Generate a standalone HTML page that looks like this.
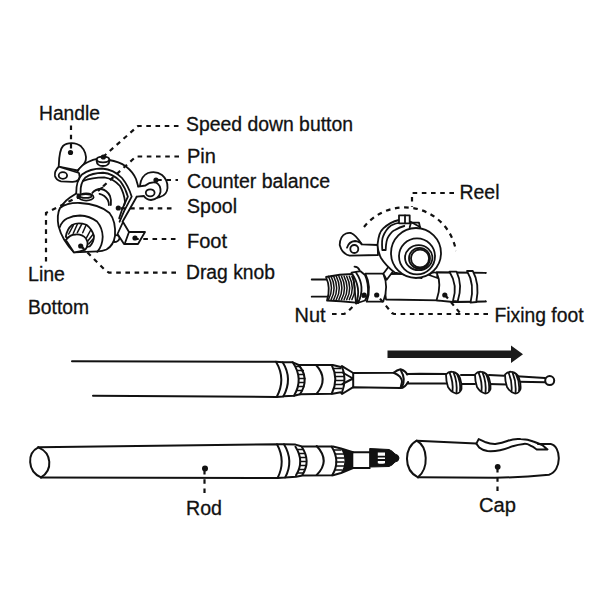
<!DOCTYPE html>
<html><head><meta charset="utf-8"><style>
html,body{margin:0;padding:0;background:#fff;}
svg{display:block;}
text{font-family:"Liberation Sans",sans-serif;font-size:20px;fill:#111;stroke:#111;stroke-width:0.3px;}
</style></head><body>
<svg width="600" height="600" viewBox="0 0 600 600">
<rect width="600" height="600" fill="#fff"/>
<!-- labels -->
<g>
<text x="39" y="119.7" textLength="61" lengthAdjust="spacingAndGlyphs">Handle</text>
<text x="186" y="130.5" textLength="167" lengthAdjust="spacingAndGlyphs">Speed down button</text>
<text x="187" y="162.5">Pin</text>
<text x="187" y="187.5" textLength="143" lengthAdjust="spacingAndGlyphs">Counter balance</text>
<text x="187" y="213" textLength="50" lengthAdjust="spacingAndGlyphs">Spool</text>
<text x="187" y="248">Foot</text>
<text x="186" y="279" textLength="89" lengthAdjust="spacingAndGlyphs">Drag knob</text>
<text x="28" y="281.3" textLength="37" lengthAdjust="spacingAndGlyphs">Line</text>
<text x="28" y="314.2" textLength="61" lengthAdjust="spacingAndGlyphs">Bottom</text>
<text x="459.5" y="199" textLength="40" lengthAdjust="spacingAndGlyphs">Reel</text>
<text x="494.5" y="321.7" textLength="89" lengthAdjust="spacingAndGlyphs">Fixing foot</text>
<text x="294.5" y="322" textLength="31" lengthAdjust="spacingAndGlyphs">Nut</text>
<text x="186" y="514.5" textLength="36" lengthAdjust="spacingAndGlyphs">Rod</text>
<text x="479" y="512.4" textLength="37" lengthAdjust="spacingAndGlyphs">Cap</text>
</g>

<!-- extended rod -->
<g fill="none" stroke="#111" stroke-width="2" stroke-linejoin="round" stroke-linecap="round">
<path d="M72,361.2 L276,361.7 Q286.3,379 276.7,397 L93,395.7"/>
<path d="M276,361.7 L282.7,362.3 Q293,379 283.3,396.5 L276.7,397"/>
<path d="M282.7,362.3 L292.7,362.3 L298.7,365 L332.7,365 L340.7,367 L342,366.2 L353.2,373 L393.7,372.7 Q397,370 400.5,369.2 Q406,371 407,374.5 L408,374 L420,373.7 L447,374 M283.3,396.3 L294,395.7 L300,394.3 L332.7,393.7 L340.7,392.3 L342,394 L353.2,387.2 L400.5,388 Q405,388 408,382 L408,383.5 L447,383.5"/>
<path d="M393.7,372.7 Q402,376 402,382 Q401,386 400.5,388"/>
<path d="M401,370.7 Q406,379 402,387.2"/>
<path d="M316,365 Q329,379 316.7,393.7"/>
<path d="M292.7,362.3 Q304,379 294,395.7 M298.7,365 Q310,379 300,394.3"/>
<path d="M331.7,365 Q339,379 331.7,393.7 M342,366.5 Q347,379 342,392.5"/>
<path d="M342.5,372.5 L353,378.5 L342.5,384 M353.2,373 V387.2"/>
<path d="M461,375 L475,375 M461,384 L475,384 M489,375 L504,375.7 M489,384 L507,384.4 M516.7,376.3 L545,377.9 M518.8,381.7 L545,382.2"/>
<circle cx="549.7" cy="380.6" r="4.5" fill="#fff"/>
</g>
<!-- knurl ticks -->
<g stroke="#111" stroke-width="1.7" fill="none">
<path d="M295,366.5 h6 M297,370.5 h7 M298,374.5 h7 M298.5,378.5 h7 M298,382.5 h7 M297.5,386.5 h7 M296.5,390.5 h6"/>
<path d="M333.5,368.5 h8 M334.5,372.5 h9 M335.5,376.5 h9 M335.5,380.5 h9 M335,384.5 h9 M334,388.5 h8"/>
</g>
<!-- guide rings -->
<g fill="#fff" stroke="#111" stroke-width="1.8" stroke-linejoin="round">
<path d="M446.0,374.5 Q449.0,371.0 453.0,372.0 Q458.0,373.0 460.0,378.0 Q462.0,384.0 461.5,389.0 Q460.0,393.5 456.0,393.5 Q451.0,392.0 448.0,387.0 Q446.0,381.0 446.0,374.5 Z"/>
<path d="M449.5,372.3 Q453.5,382.0 452.5,391.5 M453.5,372.3 Q457.5,382.0 456.5,393.0 M457.0,374.0 Q461.0,382.0 460.0,391.0"/>
<path d="M475.0,374.5 Q478.0,371.0 482.0,372.0 Q487.0,373.0 489.0,378.0 Q491.0,384.0 490.5,389.0 Q489.0,393.5 485.0,393.5 Q480.0,392.0 477.0,387.0 Q475.0,381.0 475.0,374.5 Z"/>
<path d="M478.5,372.3 Q482.5,382.0 481.5,391.5 M482.5,372.3 Q486.5,382.0 485.5,393.0 M486.0,374.0 Q490.0,382.0 489.0,391.0"/>
<path d="M505.0,374.5 Q508.0,371.0 512.0,372.0 Q517.0,373.0 519.0,378.0 Q521.0,384.0 520.5,389.0 Q519.0,393.5 515.0,393.5 Q510.0,392.0 507.0,387.0 Q505.0,381.0 505.0,374.5 Z"/>
<path d="M508.5,372.3 Q512.5,382.0 511.5,391.5 M512.5,372.3 Q516.5,382.0 515.5,393.0 M516.0,374.0 Q520.0,382.0 519.0,391.0"/>
</g>
<!-- arrow -->
<path d="M387.5,350.5 H511 V345.5 L523,354.3 L511,363 V358 H387.5 Z" fill="#1a1a1a"/>

<!-- collapsed rod -->
<g fill="none" stroke="#111" stroke-width="2" stroke-linejoin="round" stroke-linecap="round">
<path d="M38.3,447.3 C27,453 27,471 41,477.4"/>
<path d="M38.3,447.3 C52,453 53,470 41,477.4"/>
<path d="M38.3,447.3 L277,444.2 Q286.1,461 277.6,478 L41,477.4"/>
<path d="M277,444.2 L284,444.2 Q294,461 285.2,477.4 L277.6,478"/>
<path d="M284,444.2 L295.5,444.6 L302,446.5 L333,446.5 L341,448.5 L353,452.3 M285.2,477.4 L296,476.8 L302.5,475.5 L333,475.3 L341,473 L353,468"/>
<path d="M316.7,446 Q330.7,461 316.7,475"/>
<path d="M295.5,446.7 Q304.7,461.3 296,475.3 M302,447.3 Q311,461 302.5,474.7"/>
<path d="M331.7,446.7 Q340.7,461.3 332.2,475.3"/>
<path d="M353.3,452.25 H369.7 M353.3,468 H369.7"/>
</g>
<g stroke="#111" stroke-width="1.7">
<path d="M297.5,449.5 H303.5 M298.7,453.5 H305.2 M299.8,457.5 H306.3 M300.2,461.5 H306.6 M299.8,465.5 H306.3 M298.7,469.5 H305 M297.3,473 H303"/>
</g>
<path d="M341,448.5 L353.3,452 L353.3,468 L341,473 Q348,461 341,448.5 Z" fill="#111"/>
<g stroke="#111" stroke-width="1.7">
<path d="M333.5,450 h8 M335,454 h9 M335.5,458 h9 M335.5,462 h9 M335.3,466 h9 M334.5,470 h8"/>
</g>
<path d="M369.7,448.5 L389,449.5 Q393,451 395,454 Q399,455 399,458 Q399,461.5 395,462 Q393,465 389,466.5 L369.7,467 Z" fill="#111" stroke="#111" stroke-width="1"/>
<path d="M377.8,452.6 H385 V463.2 Q381,464.5 377.8,463.2 Z" fill="#fff"/>
<path d="M377,456.6 H386 M377,460 H386" stroke="#111" stroke-width="1.8"/>
<!-- cap -->
<g fill="none" stroke="#111" stroke-width="2" stroke-linejoin="round" stroke-linecap="round">
<path d="M416.7,440.7 C404,447 403,470 418,477.3"/>
<path d="M416.7,440.7 C428,447 429,468 418,477.3"/>
<path d="M416.7,440.7 L476.3,443.6 M538,443.9 L550.7,443.9 C561.5,446 562,471 549,474.7 Q520,477.5 495,477.7 L418,477.3"/>
<path d="M476.3,443.6 L478.7,439.1 Q482,440.5 485.8,442.3 Q490,444 495.3,443.9 Q502,443 508,440.7 Q514,438.5 520.6,439.1 Q528,439.5 533.3,441.5 Q539,443.5 542.8,445.4 L547.5,449.4 L536.5,449.4 Q533,446 530.1,445.4 Q527,443.5 523.8,443.9 Q518,444.5 512.7,446.2 Q506,449 500,450.2 Q493,451.5 487.4,451 Q482,450 479.5,447.8 Z"/>
</g>
<!-- top-right reel on rod -->
<g fill="#fff" stroke="#111" stroke-width="1.8" stroke-linejoin="round" stroke-linecap="round">
<!-- rod left -->
<path fill="none" d="M311.7,279.5 H328 M311.7,296.7 H328"/>
<!-- body between collars -->
<path d="M383,274 L440,273.5 L440,300.3 L386,299.5 Z"/>
<!-- rod right -->
<path d="M436.7,272.5 L485.7,272.8 M453,302 L485.7,301.4"/>
<path stroke="none" d="M436.7,272.5 L485,272.8 L485,301.4 L436.7,300 Z"/>
<path fill="none" d="M436.7,272.5 L485.7,272.8 M436.7,300.3 L453,302 L485.7,301.4"/>
<!-- fixing foot right -->
<path fill="none" d="M436.7,272.8 Q442,284 436.7,299.7"/>
<path d="M449.5,271.7 L456.5,271.7 Q463,285 457.7,301.4 L453,300.8 Q458,285 449.5,271.7 Z"/>
<path d="M467,271 L472.8,271 Q480,284 476.3,302 L470.5,302.6 Q475,284 467,271 Z"/>
<!-- threaded section -->
<path d="M326,277 Q340,274 353,274 L356,302.7 Q340,301 327,300.5 Q331,288 326,277 Z"/>
<path fill="none" stroke-width="1.5" d="M328.5,276.3 Q334.5,288 328.5,299.7 M331.1,276.3 Q337.1,288 331.1,299.7 M333.7,276.3 Q339.7,288 333.7,299.7 M336.3,276.3 Q342.3,288 336.3,299.7 M338.9,276.3 Q344.9,288 338.9,299.7 M341.5,276.3 Q347.5,288 341.5,299.7 M344.1,276.3 Q350.1,288 344.1,299.7 M346.7,276.3 Q352.7,288 346.7,299.7 M349.3,276.3 Q355.3,288 349.3,299.7 M351.9,276.3 Q357.9,288 351.9,299.7"/>
<!-- nut -->
<path d="M351.5,272.7 L360.5,271.2 L365,275 Q368.5,282 368,294.5 L365,300.5 L356,303.5 Q362,288 351.5,272.7 Z"/>
<path fill="none" d="M356,272.5 Q366,287 358,303 M354.5,266.7 Q358,267 359.5,270"/>
<!-- collar left -->
<path d="M365.3,273.7 L383.3,273.7 Q389,287 383.3,301.5 L366.7,301.7 Q372,287 365.3,273.7 Z"/>
<!-- reel handle -->
<path d="M351,233 Q356,235 361.7,244.3 L377.7,245 L378,255 L349.7,255.7 Q342,254 339.7,245 Q340,236 346,233.5 Q348.5,232.5 351,233 Z"/>
<path fill="none" d="M347,247.7 Q349,241.5 355,241 Q360,241.5 361.7,244.3"/>
<circle cx="354.3" cy="249" r="4"/>
<!-- legs -->
<path d="M383.3,273.7 L389.3,265.7 L393.3,271 L386.7,279.7 Z"/>
<path d="M429,275 Q433,271 437,273 L437.5,278 Z"/>
<!-- reel back body -->
<path d="M377.7,243.3 Q379,232 383,228.7 Q390,222 399,220 L411,222 L420,227 L416,253 L421.7,278 L395,272.7 Q386,266 381,258 Q377,250 377.7,243.3 Z"/>
<path fill="none" d="M382.3,250 Q381.5,240 383,236.7 Q386,229 391,225.5 Q396,223 400.3,222.7 M385.7,250 Q386,240 388.3,236.7 Q392,231 395,230 Q400,227 404.3,226 M382.3,250 L385.7,250"/>
<path d="M399,215.3 H409.7 V223.3 H399 Z"/>
<path fill="none" d="M405,215.3 V223.3"/>
<path fill="none" d="M409.7,227.3 L411,222.7 L419,222.7 L420,227.3"/>
<!-- front face -->
<circle cx="416" cy="253" r="25"/>
<circle cx="417" cy="256.3" r="18"/>
<ellipse cx="418.7" cy="257.7" rx="13.7" ry="12.5"/>
<circle cx="419.5" cy="258.3" r="10.5"/>
<circle cx="420" cy="258.5" r="9"/>
</g>
<!-- top-left reel -->
<g fill="#fff" stroke="#111" stroke-width="1.8" stroke-linejoin="round" stroke-linecap="round">
<!-- counter balance disc -->
<path d="M140,185.5 Q141,176 148,173 Q156,170.5 162,175 Q168,180 167.5,188 Q167,195 160,197 L150,199 Z"/>
<!-- handle blob -->
<path d="M58.75,166.75 C59,160 59,150 63,146 C67,142 76,142 81,146.3 C85,150 86.5,156 85.8,160 C85,165 80,168 77.5,170.5 Z"/>
<!-- frame body -->
<path stroke="none" d="M77.5,171.5 Q81,165 88,162 Q93,159.5 98,158.7 L109,160 Q119,161.5 126,166.5 Q133,172 136,179 L138.3,186.7 L145,190 L136.7,196.7 L122.5,221.7 L117,222 Q114,205 104,192 L79,193 Q77,184 77.5,171.5 Z"/>
<path fill="none" d="M77.5,171.5 Q81,165 88,162 Q93,159.5 98,158.7 L109,160 Q119,161.5 126,166.5 Q133,172 136,179 L138.3,186.7 M136.7,196.7 L122.5,221.7"/>
<!-- arm with ring -->
<path d="M138.3,186.7 L145.4,185.5 Q150,181.5 156,182.5 Q161,185 160.5,192 Q159,199 151,200 Q146,199.5 144,196 L136.7,196.7"/>
<ellipse cx="150.2" cy="192.8" rx="4.4" ry="3.5"/>
<!-- handle arm -->
<path d="M58.75,166.75 L79,173 Q80.5,177 78.3,180 Q76,182 72,181.8 L61,181.3 Q56,180 55,176 Q54.2,171 58.75,166.75 Z"/>
<ellipse cx="62.9" cy="175.5" rx="4.2" ry="3.3"/>
<!-- speed down button -->
<path d="M96.6,161 Q97,166 103,166 Q109,166 109.4,161 L109.4,159.5 L96.6,159.5 Z"/>
<ellipse cx="103" cy="159.5" rx="6.2" ry="2.8"/>
<!-- spool back -->
<path stroke="none" d="M58.7,212 Q62,203 70,197.5 L76.25,193.5 L93,193.5 Q97,189.5 102.5,187.5 Q110,193 113,202 Q116,212 115,220 L80,240 Z"/>
<path fill="none" d="M58.7,212 Q62,203 70,197.5 L76.25,193.5 M93,193.5 Q97,189.5 102.5,187.5"/>
<ellipse cx="86.2" cy="197" rx="7.5" ry="3.6"/>
<ellipse cx="85.7" cy="195.9" rx="6" ry="1.9"/>
<!-- bail band -->
<path fill="none" d="M76.25,193 Q76,181 82,174.5 Q90,168.5 102,168.5 Q114,169.5 122,178 Q128.5,186 131.7,196.7 L124.2,210.8 L119.6,221.7"/>
<path fill="none" d="M80.6,193 Q80,183 85.5,177.4 Q92,173 103,172.75 Q113,173.5 120.5,181.5 Q125.5,188 127.9,196.7 L122.5,208.3 L119.2,218.3"/>
<path fill="none" d="M83.2,181 Q92,177.5 104.2,177.4 Q114,179 120,186 Q124,193 125,201.7 L124.2,205"/>
<!-- pin crescent -->
<path stroke="none" d="M92.3,192.8 Q96,188.8 101,189 Q107,190 110,196 Q111.5,200 110.9,205 L100,206 Z"/>
<path fill="none" d="M92.3,192.8 Q96,188.8 101,189 Q107,190 110,196 Q111.5,200 110.9,205"/>
<path fill="none" d="M99.5,193.8 Q105,195 107.8,200 Q109,202.5 108.9,205"/>
<!-- foot -->
<path d="M123,222 L129,232 L145,232 L138,244 L124,244 L117.5,234 Z"/>
<path d="M129,232 L125,243"/>
<path d="M113.5,235.5 Q119,234 119.5,238.5 Q118.5,242 114,242 Z"/>
<!-- front face -->
<path d="M74,252.4 Q62,240 58.5,226 Q56.5,215 60,208 Q67,202.5 80,203 Q99,204 109.5,213 Q116,221 115,236 Q113.5,245.5 106.5,249.5 Q102,251.3 98,251.3 Z"/>
<path fill="none" d="M59.9,227 Q62,221 67,218.5 Q73,215.5 80,215.5 Q90,216 97,221.5 Q102.5,228 102.7,236.7 Q102.5,246 97.25,251.8"/>
<path d="M65.8,236.7 Q67,229 72,225 Q78,222 86.4,224.75 Q92,229 94,236 Q94,242 89.7,246.4 L80,248 Z"/>
<path d="M65.8,240 Q70,234.5 75.6,234.5 Q82,234 86,238.5 Q88,242 87.5,244.25 Q87,248 85.3,249.7 Q80,252 74,252.4 Z"/>
</g>
<g stroke="#111" stroke-width="1.5" stroke-linecap="round">
<path d="M68.7,234 L73.3,225.3 M73.3,233.3 L77.3,224.3 M77.3,232.7 L82,223.7 M82.7,232.7 L86,225.3 M86.7,237.3 L90.7,230 M88,240.7 L92.7,234.7 M88.7,244 L93.3,238.7"/>
</g>
<g fill="#111">
<path d="M76.5,193.5 L80,193.5 L80.5,199 L77,199 Z"/>
</g>
<!-- dashed leaders -->
<g fill="none" stroke="#111" stroke-width="2.2" stroke-dasharray="4.6 4.6">
<path d="M71,125.5 V150"/>
<path d="M178.5,126 H138 L103,157"/>
<path d="M179,156.5 H136 L98,191"/>
<path d="M156,180 L161.7,180 M166.5,180 H171 M175.5,180 H178" stroke-dasharray="none"/>
<path d="M171.5,208.3 H118"/>
<path d="M175.5,239 H135"/>
<path d="M176,272.6 H109 L105.5,270.5 L81,246"/>
<path d="M46,261.5 V213 L78,197"/>
<!-- reel on rod -->
<path d="M454,193 H412 V207"/>
<path d="M364,227 A52,52 0 0 1 456,251"/>
<path d="M332,314 H344 L347,312.5 L365,294.5"/>
<path d="M488,314 H394 L392,313 L377,295"/>
<path d="M445,295 L459.6,312.5"/>
<!-- rod / cap -->
<path d="M204.5,470 V496"/>
<path d="M497.5,468 V492"/>
</g>
<g fill="#111">
<circle cx="70.5" cy="152.5" r="2.6"/>
<circle cx="103.3" cy="157" r="2.6"/>
<circle cx="156" cy="180" r="2.6"/>
<circle cx="118.3" cy="208" r="2.6"/>
<circle cx="135" cy="238" r="2.6"/>
<circle cx="80.7" cy="246" r="2.6"/>
<circle cx="364.2" cy="295.2" r="2.6"/>
<circle cx="376.7" cy="295" r="2.6"/>
<circle cx="444.8" cy="295" r="2.6"/>
<circle cx="205" cy="468.5" r="3"/>
<circle cx="497.7" cy="466.8" r="2.9"/>
</g>

</svg>
</body></html>
